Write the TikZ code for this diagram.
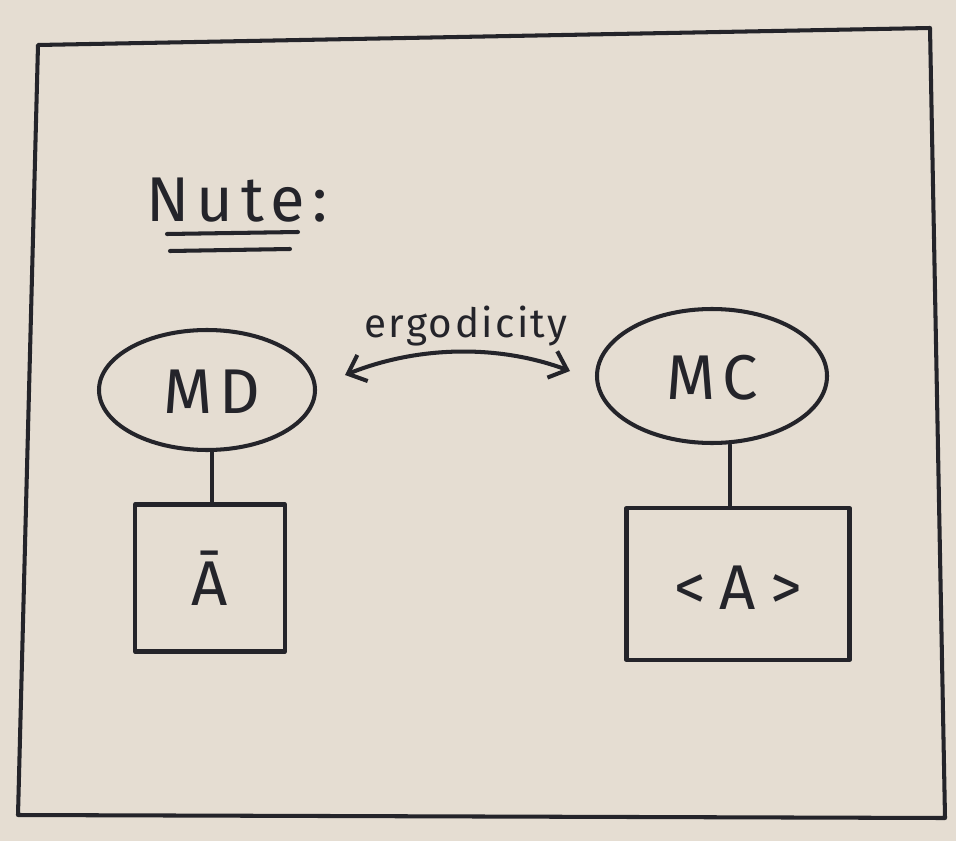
\documentclass[tikz,border=0pt]{standalone}
\usepackage{fontspec}
\setmainfont{Fira Sans}
\usetikzlibrary{arrows.meta,shapes.geometric}
\definecolor{paper}{HTML}{E5DDD2}
\definecolor{pen}{HTML}{24242A}
\tikzset{
  ink/.style={draw=pen, line width=2.3pt, line cap=round, line join=round},
  bubble/.style={ink, ellipse, inner sep=0pt},
  valbox/.style={ink, rectangle, inner sep=0pt},
  bigtext/.style={text=pen, font=\fontsize{36}{40}\selectfont\addfontfeature{LetterSpace=12}},
}
\begin{document}
\begin{tikzpicture}[x=0.02cm,y=-0.02cm]
\fill[paper] (0,0) rectangle (956,841);
\useasboundingbox (0,0) rectangle (956,841);
% outer frame
\coordinate (f1) at (38,45);
\coordinate (f2) at (930,28);
\coordinate (f3) at (945,818);
\coordinate (f4) at (18,815);
\draw[ink] (f1) -- (f2) -- (f3) -- (f4) -- cycle;
% title
\node[bigtext, anchor=center] (title) at (237,200) {Nute:};
\coordinate (u1a) at (167,234); \coordinate (u1b) at (298,232);
\coordinate (u2a) at (170,251); \coordinate (u2b) at (290,249);
\draw[ink] (u1a) -- (u1b);
\draw[ink] (u2a) -- (u2b);
% ellipses
\node[bubble, minimum width=216*0.02cm, minimum height=120*0.02cm] (md) at (207,390) {};
\node[bigtext] at (212,392) {MD};
\node[bubble, minimum width=230*0.02cm, minimum height=134*0.02cm] (mc) at (712,376) {};
\node[bigtext] at (712,378) {MC};
% boxes
\node[valbox, minimum width=150*0.02cm, minimum height=147*0.02cm] (abar) at (210,578) {};
\node[bigtext] at (abar) {Ā};
\node[valbox, minimum width=223*0.02cm, minimum height=152*0.02cm] (avg) at (738,584) {};
\node[bigtext, font=\fontsize{36}{40}\selectfont\addfontfeature{LetterSpace=22}] at (738,588) {<A>};
% connectors
\draw[ink] (md.south) ++(5,0) coordinate (mds) -- (mds |- abar.north);
\draw[ink] (mc.south) ++(18,0) coordinate (mcs) -- (mcs |- avg.north);
% ergodicity arrow
\coordinate (ea) at (345,375);
\coordinate (eb) at (570,371);
\draw[ink, {Straight Barb[length=9pt,width=16pt]}-{Straight Barb[length=9pt,width=16pt]}] (ea) .. controls (420,345) and (500,345) .. (eb);
\node[text=pen, font=\fontsize{23}{26}\selectfont\addfontfeature{LetterSpace=6}] (erg) at (466,326) {ergodicity};
\end{tikzpicture}
\end{document}
